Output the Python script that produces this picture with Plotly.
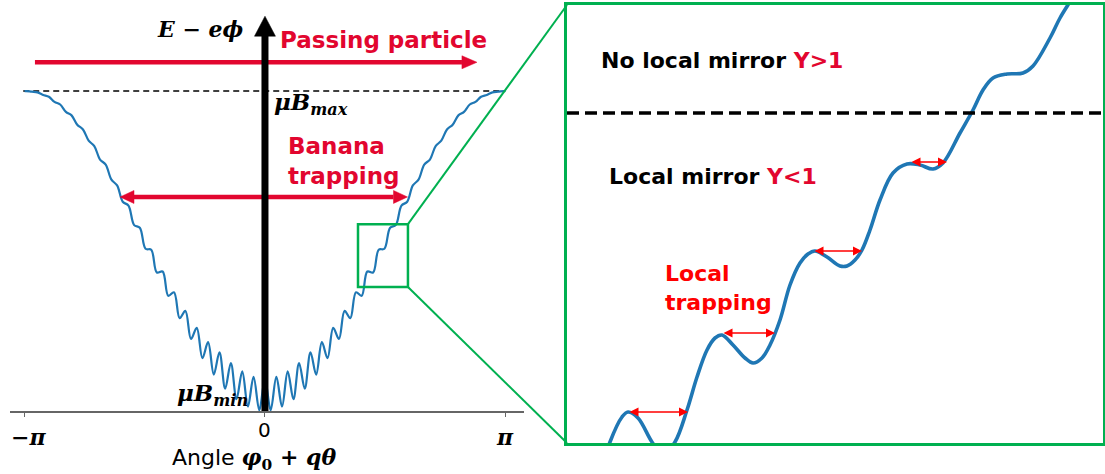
import plotly.graph_objects as go
import math

# ---------------- data ----------------
# right half of the rippled well (extrema), mirrored for the left half
angle_half = [0.000, 0.074, 0.149, 0.223, 0.297, 0.372, 0.446, 0.520, 0.595, 0.669,
              0.744, 0.818, 0.892, 0.967, 1.041, 1.115, 1.190, 1.264, 1.338, 1.413,
              1.487, 1.561, 1.636, 1.710, 1.784, 1.859, 1.933, 2.007, 2.082, 2.156,
              2.231, 2.305, 2.379, 2.454, 2.528, 2.602, 2.677, 2.751, 2.825, 2.900,
              2.974, 3.048, 3.123, 3.142]
energy_half = [0.100, 0.002, 0.107, 0.014, 0.124, 0.037, 0.150, 0.070, 0.183, 0.114,
               0.215, 0.165, 0.260, 0.225, 0.313, 0.290, 0.371, 0.360, 0.436, 0.433,
               0.504, 0.507, 0.573, 0.581, 0.642, 0.654, 0.705, 0.723, 0.770, 0.786,
               0.828, 0.845, 0.880, 0.895, 0.924, 0.935, 0.958, 0.966, 0.982, 0.988,
               0.996, 0.998, 1.000, 1.000]

# zoomed-in curve (right panel, arbitrary units)
zoom_x = [0.33, 0.43, 0.55, 0.61, 0.71, 0.85, 0.96, 1.08, 1.20, 1.30, 1.40, 1.48, 1.55,
          1.66, 1.78, 1.86, 1.95, 2.03, 2.13, 2.23, 2.33, 2.41, 2.48, 2.60, 2.73, 2.80,
          2.88, 2.95, 3.03, 3.13, 3.26, 3.40, 3.53, 3.66, 3.76, 3.93, 4.06, 4.16, 4.26,
          4.40, 4.56, 4.66, 4.83, 4.93, 5.05, 5.15]
zoom_y = [-0.32, 0.01, 0.26, 0.31, 0.25, 0.01, -0.12, 0.01, 0.33, 0.66, 0.93, 1.05, 1.08,
          0.98, 0.85, 0.80, 0.85, 0.98, 1.23, 1.58, 1.80, 1.89, 1.92, 1.86, 1.77, 1.77,
          1.83, 1.93, 2.13, 2.43, 2.70, 2.79, 2.78, 2.74, 2.80, 3.10, 3.33, 3.53, 3.65,
          3.69, 3.70, 3.77, 4.05, 4.25, 4.45, 4.65]

tick_vals = [-math.pi, 0.0, math.pi]
tick_text = ["−π", "0", "π"]

mu_b_max = 1.0
passing_level = 1.09
passing_span = [-3.007, 2.771]
banana_level = 0.669
banana_span = [-1.895, 1.863]
axis_arrow_top = 1.234
zoom_box_x = [1.216, 1.869]
zoom_box_y = [0.3875, 0.584]

mirror_level = 3.30
trap_y = [0.31, 1.10, 1.92, 2.81]
trap_x0 = [0.61, 1.55, 2.46, 3.43]
trap_x1 = [1.21, 2.08, 2.95, 3.80]

# ---------------- layout geometry ----------------
W, H = 1105, 474
LX_DOM = [10 / W, 524 / W]
LY_DOM = [1 - 411 / H, 1 - 5 / H]
LX_RNG = [-3.333, 3.386]
LY_RNG = [0, 1.269]
RX_DOM = [567 / W, 1103 / W]
RY_DOM = [1 - 443 / H, 1 - 5 / H]
RX_RNG = [0, 5.36]
RY_RNG = [0, 4.38]

PX_PER_X = (LX_DOM[1] - LX_DOM[0]) * W / (LX_RNG[1] - LX_RNG[0])
PX_PER_Y = (LY_DOM[1] - LY_DOM[0]) * H / (LY_RNG[1] - LY_RNG[0])


def lpx(x):
    return LX_DOM[0] + (x - LX_RNG[0]) / (LX_RNG[1] - LX_RNG[0]) * (LX_DOM[1] - LX_DOM[0])


def lpy(y):
    return LY_DOM[0] + (y - LY_RNG[0]) / (LY_RNG[1] - LY_RNG[0]) * (LY_DOM[1] - LY_DOM[0])


CRIMSON = "#E2062F"
RED = "#FF0000"
BLUE = "#1f77b4"
GREEN = "#00B050"
SANS = "DejaVu Sans, Liberation Sans, sans-serif"
SERIF = "DejaVu Serif, serif"

angle = [-a for a in angle_half[::-1]] + angle_half[1:]
energy = energy_half[::-1] + energy_half[1:]

fig = go.Figure()
fig.add_trace(go.Scatter(x=angle, y=energy, mode="lines",
                         line=dict(color=BLUE, width=2.2, shape="spline", smoothing=1.0),
                         xaxis="x", yaxis="y", hoverinfo="skip", showlegend=False))
fig.add_trace(go.Scatter(x=zoom_x, y=zoom_y, mode="lines",
                         line=dict(color=BLUE, width=3.6, shape="spline", smoothing=1.0),
                         xaxis="x2", yaxis="y2", hoverinfo="skip", showlegend=False))

shapes = []
# dashed muB_max level
shapes.append(dict(type="line", xref="x", yref="y", x0=-3.16, x1=math.pi, y0=mu_b_max, y1=mu_b_max,
                   line=dict(color="black", width=1.5, dash="6px,4px"), layer="below"))


def arrow_shapes(xa, xb, y, color, width, hl_px, hw_px, both):
    hl = hl_px / PX_PER_X
    hw = hw_px / PX_PER_Y
    out = []
    x_start = xa + (hl if both else 0)
    out.append(dict(type="line", xref="x", yref="y", x0=x_start, x1=xb - hl, y0=y, y1=y,
                    line=dict(color=color, width=width)))
    out.append(dict(type="path", xref="x", yref="y",
                    path=f"M {xb},{y} L {xb - hl},{y + hw} L {xb - hl},{y - hw} Z",
                    fillcolor=color, line=dict(color=color, width=0.5)))
    if both:
        out.append(dict(type="path", xref="x", yref="y",
                        path=f"M {xa},{y} L {xa + hl},{y + hw} L {xa + hl},{y - hw} Z",
                        fillcolor=color, line=dict(color=color, width=0.5)))
    return out


shapes += arrow_shapes(passing_span[0], passing_span[1], passing_level, CRIMSON, 4.5, 15, 6.5, False)
shapes += arrow_shapes(banana_span[0], banana_span[1], banana_level, CRIMSON, 4.5, 14, 6.5, True)

# vertical black axis arrow
head_len = 20 / PX_PER_Y
head_hw = 10.5 / PX_PER_X
shapes.append(dict(type="line", xref="x", yref="y", x0=0, x1=0, y0=0, y1=axis_arrow_top - head_len + 0.005,
                   line=dict(color="black", width=7)))
shapes.append(dict(type="path", xref="x", yref="y",
                   path=f"M {-head_hw},{axis_arrow_top - head_len} L {head_hw},{axis_arrow_top - head_len} L 0,{axis_arrow_top} Z",
                   fillcolor="black", line=dict(color="black", width=0.5)))

# zoom box and connectors
shapes.append(dict(type="rect", xref="x", yref="y", x0=zoom_box_x[0], x1=zoom_box_x[1],
                   y0=zoom_box_y[0], y1=zoom_box_y[1], line=dict(color=GREEN, width=2.5)))
shapes.append(dict(type="line", xref="paper", yref="paper", x0=lpx(zoom_box_x[1]), y0=lpy(zoom_box_y[1]),
                   x1=RX_DOM[0], y1=RY_DOM[1], line=dict(color=GREEN, width=2)))
shapes.append(dict(type="line", xref="paper", yref="paper", x0=lpx(zoom_box_x[1]), y0=lpy(zoom_box_y[0]),
                   x1=RX_DOM[0], y1=RY_DOM[0], line=dict(color=GREEN, width=2)))

# right dashed mirror level
shapes.append(dict(type="line", xref="x2", yref="y2", x0=RX_RNG[0], x1=RX_RNG[1], y0=mirror_level, y1=mirror_level,
                   line=dict(color="black", width=3.5, dash="12px,6px")))


def P(px, py):
    return px / W, 1 - py / H


annotations = []


def txt(text, px, py, size, color="black", family=SANS, xanchor="left", align="left"):
    x, y = P(px, py)
    annotations.append(dict(text=text, x=x, y=y, xref="paper", yref="paper", showarrow=False,
                            xanchor=xanchor, yanchor="middle", align=align,
                            font=dict(size=size, color=color, family=family)))


txt("<b><i>E</i> − <i>eϕ</i></b>", 200, 29, 22, family=SERIF, xanchor="center")
txt("<b>Passing particle</b>", 278, 40, 23, color=CRIMSON)
txt("<b><i>μB</i><sub><i>max</i></sub></b>", 272, 103, 23, family=SERIF)
txt("<b>Banana<br>trapping</b>", 286, 161, 23, color=CRIMSON)
txt("<b><i>μB</i><sub><i>min</i></sub></b>", 250, 394, 23, family=SERIF, xanchor="right")
for v, t in zip(tick_vals, tick_text):
    px = LX_DOM[0] * W + (v - LX_RNG[0]) * PX_PER_X
    if t == "0":
        txt(t, px, 430, 20, xanchor="center")
    elif t == "π":
        txt("<b><i>π</i></b>", px, 437, 22, family=SERIF, xanchor="center")
    else:
        txt("<b>−<i>π</i></b>", px + 4, 437, 22, family=SERIF, xanchor="center")
txt("Angle <span style='font-family:DejaVu Serif'><b><i>φ</i><sub>0</sub> + <i>qθ</i></b></span>",
    254, 459, 22, xanchor="center")

txt(f"<b>No local mirror <span style='color:{CRIMSON}'>Y&gt;1</span></b>", 599, 61, 22)
txt(f"<b>Local mirror <span style='color:{CRIMSON}'>Y&lt;1</span></b>", 607, 176, 22)
txt("<b>Local<br>trapping</b>", 663, 288, 22, color=RED)

for y, x0, x1 in zip(trap_y, trap_x0, trap_x1):
    annotations.append(dict(x=x1, y=y, ax=x0, ay=y, xref="x2", yref="y2", axref="x2", ayref="y2",
                            text="", showarrow=True, arrowhead=2, arrowsize=1.2, arrowwidth=1.5,
                            arrowcolor=RED, arrowside="end+start", standoff=0, startstandoff=0))

fig.update_layout(
    width=W, height=H, margin=dict(l=0, r=0, t=0, b=0),
    paper_bgcolor="white", plot_bgcolor="white",
    shapes=shapes, annotations=annotations, showlegend=False,
    xaxis=dict(domain=LX_DOM, range=LX_RNG, showgrid=False, zeroline=False, showline=True,
               linecolor="#666666", linewidth=1.5, ticks="outside", ticklen=4, tickwidth=1.2,
               tickcolor="#666666", tickvals=tick_vals, showticklabels=False, fixedrange=True),
    yaxis=dict(domain=LY_DOM, range=LY_RNG, visible=False, fixedrange=True),
    xaxis2=dict(domain=RX_DOM, range=RX_RNG, showgrid=False, zeroline=False, showline=True, mirror=True,
                linecolor=GREEN, linewidth=3, showticklabels=False, ticks="", anchor="y2", fixedrange=True),
    yaxis2=dict(domain=RY_DOM, range=RY_RNG, showgrid=False, zeroline=False, showline=True, mirror=True,
                linecolor=GREEN, linewidth=3, showticklabels=False, ticks="", anchor="x2", fixedrange=True),
)

fig.write_html("out.html", config={"displayModeBar": False},
               post_script="document.body.style.margin='0';")
